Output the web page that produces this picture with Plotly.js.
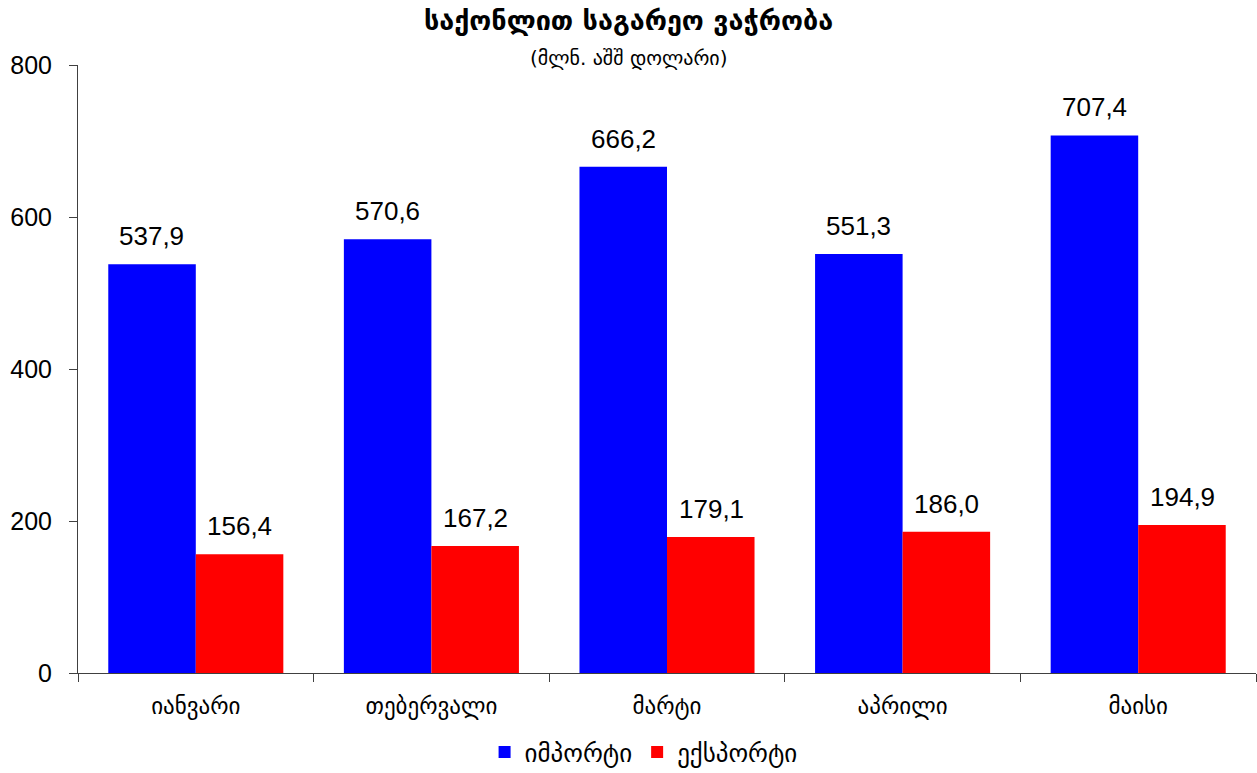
<!DOCTYPE html>
<html>
<head>
<meta charset="utf-8">
<script src="https://cdn.plot.ly/plotly-3.0.1.min.js"></script>
<style>html,body{margin:0;padding:0;background:#fff;}#chart{width:1257px;height:773px;}</style>
</head>
<body>
<div id="chart"></div>
<script>
const months = ["იანვარი", "თებერვალი", "მარტი", "აპრილი", "მაისი"];
const importValues = [537.9, 570.6, 666.2, 551.3, 707.4];
const exportValues = [156.4, 167.2, 179.1, 186.0, 194.9];
const seriesNames = ["იმპორტი", "ექსპორტი"];
const yTicks = [0, 200, 400, 600, 800];
const titleText = "საქონლით საგარეო ვაჭრობა";
const subtitleText = "(მლნ. აშშ დოლარი)";

const geo = "DejaVu Sans, Noto Sans, sans-serif";
const num = "Liberation Sans, Arial, sans-serif";

const traces = [
  {type: "bar", name: seriesNames[0], x: months, y: importValues,
   marker: {color: "#0000FF"}, hoverinfo: "skip"},
  {type: "bar", name: seriesNames[1], x: months, y: exportValues,
   marker: {color: "#FF0000"}, hoverinfo: "skip"}
];

// value labels built from the data arrays
const fmt = v => v.toFixed(1).replace(".", ",");
const annotations = [];
[importValues, exportValues].forEach((vals, s) => {
  vals.forEach((v, i) => {
    annotations.push({x: months[i], y: v, xref: "x", yref: "y", text: fmt(v),
      showarrow: false, xanchor: "center", yanchor: "bottom",
      xshift: s === 0 ? -44 : 44, yshift: 11,
      font: {family: num, size: 26, color: "#000"}});
  });
});
annotations.push({text: subtitleText, xref: "paper", yref: "paper", x: 0.5, y: 1,
  xanchor: "center", yanchor: "middle", yshift: 7, xshift: -38, showarrow: false,
  font: {family: geo, size: 20, color: "#000"}});

const layout = {
  width: 1257, height: 773,
  margin: {l: 78, r: 1, t: 65, b: 100},
  paper_bgcolor: "#fff", plot_bgcolor: "#fff",
  barmode: "group", bargap: 0.257, bargroupgap: 0,
  showlegend: true,
  legend: {orientation: "h", x: 0.512, xref: "container", xanchor: "center", y: 0.027, yref: "container", yanchor: "middle",
           font: {family: geo, size: 25, color: "#000"}, itemwidth: 30},
  title: {text: "<b>" + titleText + "</b>",
          x: 0.5, xref: "container", xanchor: "center", y: 0.974, yref: "container", yanchor: "middle",
          font: {family: geo, size: 27, color: "#000"}},
  annotations: annotations,
  xaxis: {type: "category", showline: true, linecolor: "#404040", linewidth: 1,
          ticks: "outside", tickson: "boundaries", ticklen: 8, tickcolor: "#404040",
          ticklabelstandoff: 12,
          tickfont: {family: geo, size: 23, color: "#000"}, showgrid: false, zeroline: false},
  yaxis: {range: [0, 800], tickvals: yTicks, showline: true, linecolor: "#404040", linewidth: 1,
          ticks: "outside", ticklen: 8, tickcolor: "#404040", showgrid: false, zeroline: false,
          ticklabelstandoff: 12,
          tickfont: {family: num, size: 25, color: "#000"}}
};

Plotly.newPlot("chart", traces, layout, {displayModeBar: false, staticPlot: true});
</script>
</body>
</html>
